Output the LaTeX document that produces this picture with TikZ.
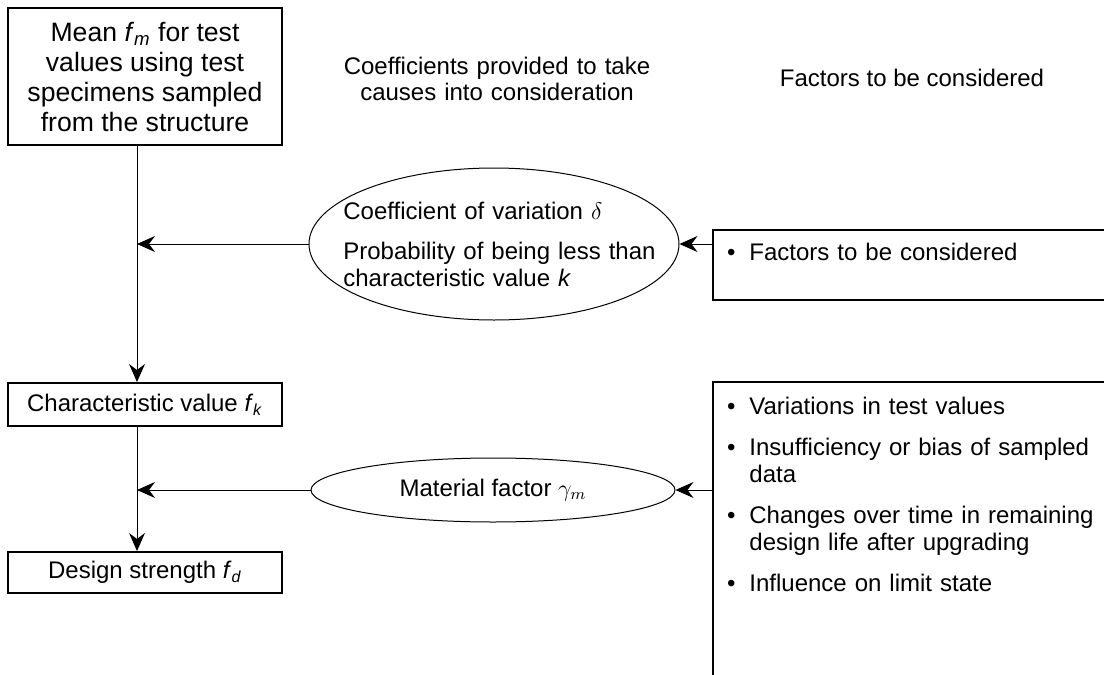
\documentclass[tikz,border=0pt]{standalone}
\usepackage{fontspec}
\setmainfont{Liberation Sans}
\usetikzlibrary{shapes.geometric,arrows.meta}

\newcommand{\fitem}[1]{\noindent\llap{\textbullet\hspace{7pt}}#1\par}

\tikzset{
  txt/.style={font=\fontsize{12pt}{13.25pt}\selectfont, inner sep=0pt},
  stepbox/.style={txt, draw, line width=1pt, minimum width=137pt, align=center},
  oval/.style={txt, draw, ellipse, line width=0.5pt},
  factlist/.style={txt, anchor=base west, text width=186pt, align=left},
  arr/.style={line width=0.5pt, -{Stealth[length=9pt,width=8pt,inset=3pt]}},
  frame/.style={line width=1pt}
}

\begin{document}
\begin{tikzpicture}[x=0.5pt,y=-0.5pt]
    \useasboundingbox (0,0) rectangle (1104,675);

    \node[stepbox, minimum height=68.5pt, font=\fontsize{13.3pt}{15pt}\selectfont] (mean) at (145,76.5)
        {Mean \textit{f}\textsubscript{\textit{m}} for test\\values using test\\specimens sampled\\from the structure};
    \node[stepbox, minimum height=21.5pt] (charval) at (145,404.5)
        {Characteristic value \textit{f}\textsubscript{\textit{k}}};
    \node[stepbox, minimum height=20.5pt] (design) at (145,572.5)
        {Design strength \textit{f}\textsubscript{\textit{d}}};

    \node[txt, text width=180pt, align=center, anchor=base] (coefhead) at (497,74)
        {Coefficients provided to take\\causes into consideration};
    \node[txt, anchor=base] (facthead) at (912,86) {Factors to be considered};

    \node[oval, minimum width=185pt, minimum height=76pt] (coef) at (494,244) {};
    \node[txt, text width=160pt, align=left, anchor=base west] (coeftext) at (343,219)
        {Coefficient of variation $\delta$\par\vspace{7pt}Probability of being less than\\characteristic value \textit{k}};
    \node[oval, minimum width=182pt, minimum height=32pt] (mat) at (493,490)
        {Material factor $\gamma_m$};

    \draw[frame] (1104,230) -- (713,230) -- (713,300) -- (1104,300);
    \draw[frame] (1104,382) -- (713,382) -- (713,675);
    \coordinate (cause1) at (713,244);
    \coordinate (cause2) at (713,490);

    \node[factlist] (factors1) at (727,260) {\leftskip=11pt
        \fitem{Factors to be considered}};
    \node[factlist] (factors2) at (727,414) {\leftskip=11pt
        \fitem{Variations in test values}\vspace{7.5pt}
        \fitem{Insufficiency or bias of sampled\\data}\vspace{7.5pt}
        \fitem{Changes over time in remaining\\design life after upgrading}\vspace{7.5pt}
        \fitem{Influence on limit state}};

    \coordinate (spine) at ([xshift=-4pt]mean.south);
    \draw[arr] (spine) -- (spine |- charval.north);
    \draw[arr] (spine |- charval.south) -- (spine |- design.north);
    \draw[arr] (coef.west) -- (coef.west -| spine);
    \draw[arr] (mat.west) -- (mat.west -| spine);
    \draw[arr] (cause1) -- (coef.east);
    \draw[arr] (cause2) -- (mat.east);
\end{tikzpicture}
\end{document}
